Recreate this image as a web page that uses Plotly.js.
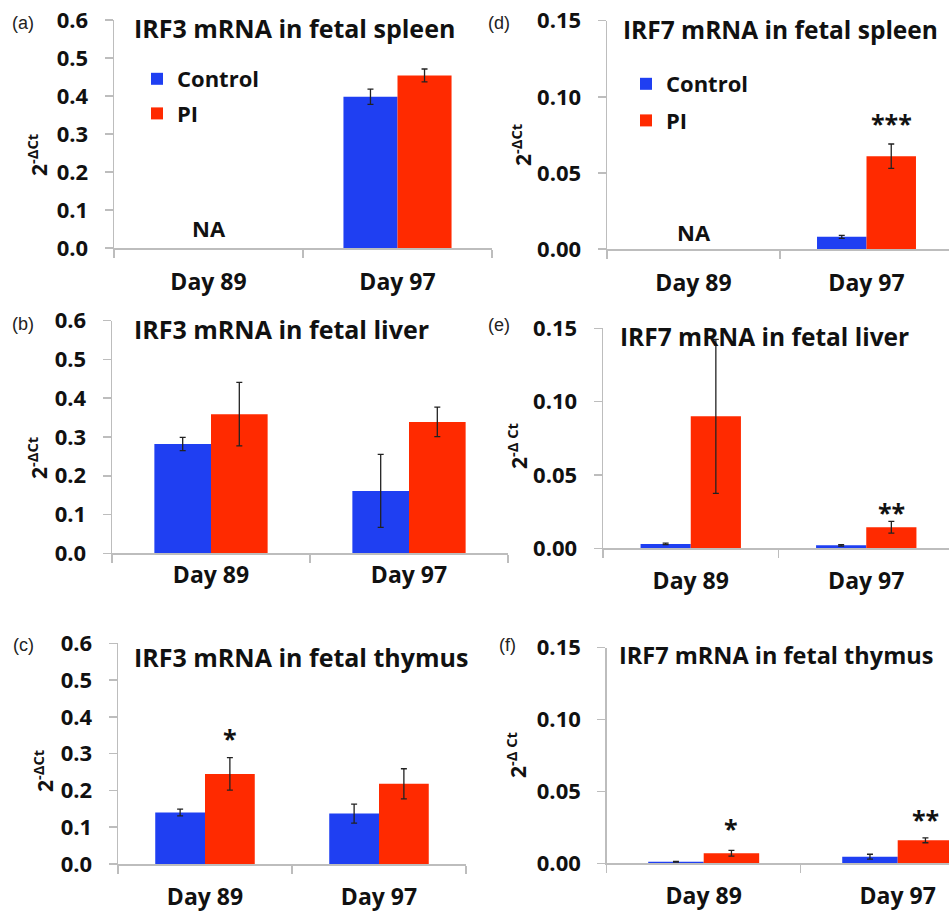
<!DOCTYPE html>
<html>
<head>
<meta charset="utf-8">
<script src="https://cdn.plot.ly/plotly-3.0.1.min.js"></script>
<style>html,body{margin:0;padding:0;background:#fff;}#chart{width:949px;height:911px;}</style>
</head>
<body>
<div id="chart"></div>
<script>
// ---------- data ----------
const days = ['Day 89', 'Day 97'];
const seriesNames = ['Control', 'PI'];

const irf3SpleenControl = [null, 0.398];
const irf3SpleenControlErr = [null, 0.020];
const irf3SpleenPI = [null, 0.454];
const irf3SpleenPIErr = [null, 0.017];

const irf3LiverControl = [0.282, 0.161];
const irf3LiverControlErr = [0.017, 0.094];
const irf3LiverPI = [0.359, 0.339];
const irf3LiverPIErr = [0.082, 0.038];

const irf3ThymusControl = [0.140, 0.137];
const irf3ThymusControlErr = [0.009, 0.026];
const irf3ThymusPI = [0.245, 0.218];
const irf3ThymusPIErr = [0.044, 0.041];

const irf7SpleenControl = [null, 0.008];
const irf7SpleenControlErr = [null, 0.001];
const irf7SpleenPI = [null, 0.061];
const irf7SpleenPIErr = [null, 0.008];

const irf7LiverControl = [0.003, 0.002];
const irf7LiverControlErr = [0.0005, 0.0005];
const irf7LiverPI = [0.090, 0.0143];
const irf7LiverPIErr = [0.0525, 0.004];

const irf7ThymusControl = [0.0011, 0.0046];
const irf7ThymusControlErr = [0.0003, 0.0017];
const irf7ThymusPI = [0.007, 0.016];
const irf7ThymusPIErr = [0.002, 0.0017];

const panelTitles = ['IRF3 mRNA in fetal spleen', 'IRF3 mRNA in fetal liver', 'IRF3 mRNA in fetal thymus',
                     'IRF7 mRNA in fetal spleen', 'IRF7 mRNA in fetal liver', 'IRF7 mRNA in fetal thymus'];
const panelLetters = ['(a)', '(b)', '(c)', '(d)', '(e)', '(f)'];
const yTitles = ['2<sup>-ΔCt</sup>', '2<sup>-ΔCt</sup>', '2<sup>-ΔCt</sup>', '2<sup>-ΔCt</sup>', '2<sup>-Δ Ct</sup>', '2<sup>-Δ Ct</sup>'];

// significance marks: [panel index, category, label, y position]
const sigMarks = [
  [2, 'Day 89', '*', 0.343],
  [3, 'Day 97', '***', 0.0825],
  [4, 'Day 97', '**', 0.0247],
  [5, 'Day 89', '*', 0.0246],
  [5, 'Day 97', '**', 0.0308]
];
const naMarks = [[0, 'Day 89', 'NA', 0.053], [3, 'Day 89', 'NA', 0.011]];

// ---------- layout geometry (pixels) ----------
const W = 949, H = 911;
const panels = [
  {x0: 114, x1: 492, yb: 248,   yt: 20,    cw: 189,   ymax: 0.6,  dt: 0.1,  fmt: '.1f', std: 13, tx: 132, ty: 28,  ts: 25,   lx: 23,  ly: 23,  ytx: 37, yty: 155, bw: 54},
  {x0: 112, x1: 508, yb: 553.3, yt: 320.7, cw: 198,   ymax: 0.6,  dt: 0.1,  fmt: '.1f', std: 1,  tx: 132, ty: 329, ts: 25,   lx: 23,  ly: 324, ytx: 37, yty: 458, bw: 56},
  {x0: 118, x1: 466, yb: 864,   yt: 643.3, cw: 174,   ymax: 0.6,  dt: 0.1,  fmt: '.1f', std: 12, tx: 132, ty: 657, ts: 25,   lx: 23,  ly: 645, ytx: 43, yty: 771, bw: 50},
  {x0: 607, x1: 953, yb: 249,   yt: 20.7,  cw: 173,   ymax: 0.15, dt: 0.05, fmt: '.2f', std: 13, tx: 621, ty: 30,  ts: 24.5, lx: 499, ly: 23,  ytx: 522, yty: 145, bw: 50},
  {x0: 603, x1: 1041,yb: 548.3, yt: 328.3, cw: 175.5, ymax: 0.15, dt: 0.05, fmt: '.2f', std: 12, tx: 618, ty: 337, ts: 24.5, lx: 499, ly: 325, ytx: 517, yty: 446, bw: 50},
  {x0: 606.7,x1: 1000,yb: 863.3,yt: 647.7, cw: 194,   ymax: 0.15, dt: 0.05, fmt: '.2f', std: 12, tx: 617, ty: 655, ts: 23.5, lx: 507, ly: 645, ytx: 516, yty: 755, bw: 55.5}
];

const BLUE = '#1f3ff2', RED = '#ff2a00';
const FONT = '"Open Sans", Lato, Arial, sans-serif';

const seriesData = [
  [irf3SpleenControl, irf3SpleenControlErr, irf3SpleenPI, irf3SpleenPIErr],
  [irf3LiverControl, irf3LiverControlErr, irf3LiverPI, irf3LiverPIErr],
  [irf3ThymusControl, irf3ThymusControlErr, irf3ThymusPI, irf3ThymusPIErr],
  [irf7SpleenControl, irf7SpleenControlErr, irf7SpleenPI, irf7SpleenPIErr],
  [irf7LiverControl, irf7LiverControlErr, irf7LiverPI, irf7LiverPIErr],
  [irf7ThymusControl, irf7ThymusControlErr, irf7ThymusPI, irf7ThymusPIErr]
];

const traces = [];
const layout = {
  width: W, height: H,
  margin: {l: 0, r: 0, t: 0, b: 0},
  paper_bgcolor: '#fff', plot_bgcolor: 'rgba(0,0,0,0)',
  barmode: 'group', bargap: 0.428, bargroupgap: 0,
  showlegend: true,
  font: {family: FONT, color: '#111'},
  annotations: [],
  legend: {x: 137 / W, y: 1 - 58 / H, xanchor: 'left', yanchor: 'top', bgcolor: 'rgba(0,0,0,0)',
           font: {family: FONT, size: 22, weight: 700, color: '#111'}, traceorder: 'grouped', tracegroupgap: 3, itemwidth: 30},
  legend2: {x: 626 / W, y: 1 - 63 / H, xanchor: 'left', yanchor: 'top', bgcolor: 'rgba(0,0,0,0)',
           font: {family: FONT, size: 22, weight: 700, color: '#111'}, traceorder: 'grouped', tracegroupgap: 5, itemwidth: 30}
};

panels.forEach((p, i) => {
  const n = i + 1;
  const xa = 'xaxis' + (n === 1 ? '' : n), ya = 'yaxis' + (n === 1 ? '' : n);
  const xr = 'x' + (n === 1 ? '' : n), yr = 'y' + (n === 1 ? '' : n);
  const xEnd = Math.min(p.x1, W);
  const rangeMax = -0.5 + (xEnd - p.x0) / p.cw;
  layout[xa] = {
    domain: [p.x0 / W, xEnd / W], anchor: yr,
    type: 'category', categoryorder: 'array', categoryarray: days,
    range: [-0.5, rangeMax], fixedrange: true,
    showline: true, linecolor: '#bdbdbd', linewidth: 1.5,
    ticks: 'outside', tickson: 'boundaries', ticklen: 8, tickcolor: '#bdbdbd', tickwidth: 1.5,
    ticklabelstandoff: p.std,
    tickfont: {family: FONT, size: 23, weight: 700, color: '#111'},
    showgrid: false, zeroline: false
  };
  layout[ya] = {
    domain: [1 - p.yb / H, 1 - p.yt / H], anchor: xr,
    range: [0, p.ymax], dtick: p.dt, tick0: 0, tickformat: p.fmt, fixedrange: true,
    showline: true, linecolor: '#bdbdbd', linewidth: 1.5,
    ticks: 'outside', ticklen: 8, tickcolor: '#bdbdbd', tickwidth: 1.5,
    ticklabelstandoff: 12,
    tickfont: {family: FONT, size: 22, weight: 700, color: '#111'},
    showgrid: false, zeroline: false
  };
  const [c, ce, pi, pe] = seriesData[i];
  const legendName = i === 0 ? 'legend' : (i === 3 ? 'legend2' : null);
  [[c, ce, BLUE, seriesNames[0]], [pi, pe, RED, seriesNames[1]]].forEach(([vals, errs, col, nm], k) => {
    traces.push({
      type: 'bar', x: days, y: vals, name: nm, xaxis: xr, yaxis: yr,
      marker: {color: col},
      error_y: {type: 'data', array: errs, visible: true, color: '#222', thickness: 1.3, width: 3},
      showlegend: legendName !== null,
      legend: legendName || 'legend',
      legendgroup: 'g' + i + k,
      hoverinfo: 'skip'
    });
  });
  // panel title
  layout.annotations.push({xref: 'paper', yref: 'paper', x: p.tx / W, y: 1 - p.ty / H, xanchor: 'left', yanchor: 'middle',
    text: panelTitles[i], showarrow: false, font: {family: FONT, size: p.ts, weight: 700, color: '#111'}});
  // panel letter
  layout.annotations.push({xref: 'paper', yref: 'paper', x: p.lx / W, y: 1 - p.ly / H, xanchor: 'center', yanchor: 'middle',
    text: panelLetters[i], showarrow: false, font: {family: 'Liberation Sans, Arial, sans-serif', size: 18, color: '#222'}});
  // y title
  layout.annotations.push({xref: 'paper', yref: 'paper', x: p.ytx / W, y: 1 - p.yty / H, xanchor: 'center', yanchor: 'middle',
    text: yTitles[i], textangle: -90, showarrow: false, font: {family: FONT, size: 21, weight: 700, color: '#111'}});
});

sigMarks.forEach(([i, cat, txt, yv]) => {
  const n = i + 1;
  layout.annotations.push({xref: 'x' + (n === 1 ? '' : n), yref: 'y' + (n === 1 ? '' : n), x: cat, y: yv,
    xshift: panels[i].bw / 2, xanchor: 'center', yanchor: 'middle', text: txt, showarrow: false,
    font: {family: FONT, size: 25, weight: 700, color: '#111'}});
});
naMarks.forEach(([i, cat, txt, yv]) => {
  const n = i + 1;
  layout.annotations.push({xref: 'x' + (n === 1 ? '' : n), yref: 'y' + (n === 1 ? '' : n), x: cat, y: yv,
    xanchor: 'center', yanchor: 'middle', text: txt, showarrow: false,
    font: {family: FONT, size: 22, weight: 700, color: '#111'}});
});

Plotly.newPlot('chart', traces, layout, {displayModeBar: false, staticPlot: true});
</script>
</body>
</html>
